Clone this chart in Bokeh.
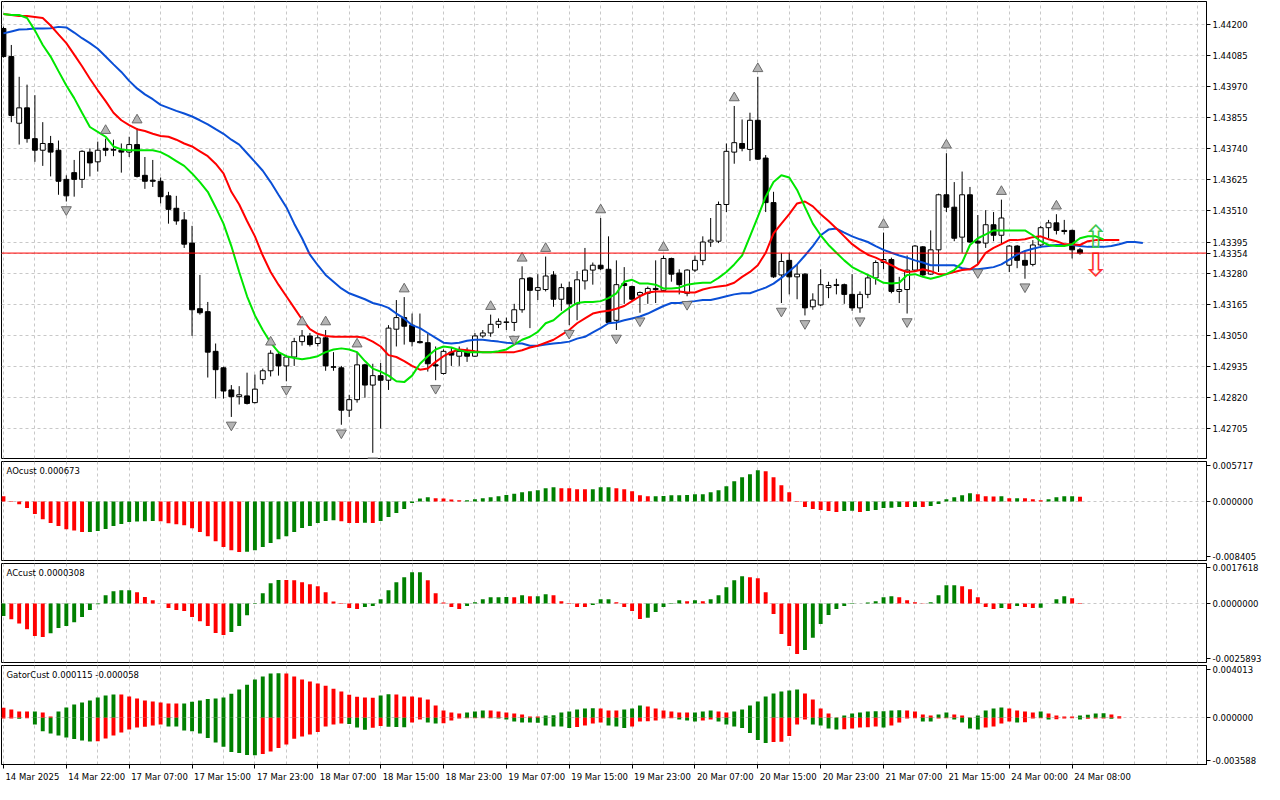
import numpy as np
from bokeh.plotting import figure
from bokeh.layouts import column
from bokeh.models import (Range1d, FixedTicker, Span, Label, ColumnDataSource,
                          CustomJSTickFormatter, PrintfTickFormatter)
from bokeh.embed import file_html
from bokeh.resources import INLINE
from bokeh.core.properties import value

# ---------------- data (prices in points of 0.00001) ----------------
open_pts = [144186,144082,143835,143892,143778,143735,143760,143735,143627,143652,
 143627,143728,143692,143742,143735,143735,143728,143756,143642,143624,
 143620,143566,143520,143477,143391,143148,143137,142990,142929,142847,
 142822,142825,142800,142886,142918,142979,142936,142969,143026,143047,
 143019,143040,142933,142929,142772,142811,142940,142865,142900,142883,
 143072,143115,143087,143026,143022,142940,142908,142987,142972,142987,
 142972,143047,143058,143090,143097,143097,143144,143262,143216,143219,
 143273,143183,143226,143166,143251,143291,143309,143294,143105,143241,
 143230,143198,143205,143223,143216,143334,143280,143205,143291,143327,
 143395,143398,143534,143728,143760,143738,143846,143706,143541,143273,
 143327,143266,143276,143155,143162,143226,143234,143237,143201,143151,
 143201,143262,143319,143330,143212,143219,143291,143377,143276,143366,
 143570,143524,143413,143570,143398,143391,143459,143420,143309,143380,
 143327,143312,143384,143448,143466,143438,143438,143366]
high_pts = [144193,144125,144007,143978,143939,143839,143788,143771,143642,143699,
 143735,143742,143767,143778,143774,143760,143785,143817,143710,143699,
 143634,143581,143566,143506,143455,143273,143173,143019,142933,142865,
 142861,142911,142904,142926,142994,142983,142976,143040,143069,143058,
 143051,143069,142987,142936,142829,142987,142944,142944,142947,143087,
 143180,143191,143130,143130,143055,143008,142997,143004,143008,143004,
 143058,143069,143126,143112,143115,143166,143305,143266,143276,143341,
 143287,143241,143248,143287,143373,143319,143484,143416,143327,143302,
 143234,143212,143230,143327,143345,143337,143294,143294,143345,143416,
 143484,143545,143760,143899,143849,143874,144007,143717,143581,143355,
 143355,143312,143280,143205,143294,143248,143259,143241,143276,143212,
 143276,143327,143430,143337,143266,143345,143384,143380,143438,143574,
 143724,143617,143656,143599,143495,143513,143506,143552,143384,143384,
 143359,143402,143455,143477,143498,143477,143441,143373]
low_pts = [144078,143839,143756,143763,143692,143677,143638,143570,143545,143563,
 143595,143638,143656,143713,143713,143652,143710,143634,143592,143599,
 143538,143463,143459,143373,143047,143126,142893,142815,142815,142747,
 142793,142793,142797,142868,142897,142900,142879,142936,143011,143008,
 143008,142918,142918,142718,142747,142800,142818,142614,142704,142847,
 143008,143015,143008,143019,142915,142883,142904,142936,142936,142951,
 142969,143040,143044,143076,143069,143065,143133,143076,143180,143212,
 143155,143140,143087,143105,143219,143237,143291,143094,143069,143166,
 143176,143133,143166,143169,143212,143248,143201,143194,143284,143309,
 143377,143391,143506,143685,143731,143695,143699,143506,143262,143169,
 143201,143183,143123,143144,143158,143187,143201,143166,143140,143133,
 143187,143237,143294,143205,143169,143130,143284,143266,143273,143284,
 143506,143398,143355,143391,143312,143373,143398,143384,143284,143298,
 143259,143305,143373,143409,143423,143423,143334,143348]
close_pts = [144082,143864,143892,143778,143735,143760,143728,143620,143566,143627,
 143731,143688,143735,143735,143738,143728,143756,143638,143620,143620,
 143563,143516,143473,143387,143144,143133,142987,142922,142843,142822,
 142829,142797,142850,142918,142983,142936,142969,143026,143047,143015,
 143040,142936,142931,142772,142811,142940,142865,142900,142883,143076,
 143115,143083,143026,143022,142944,142936,142990,142976,142990,142972,
 143047,143058,143090,143101,143099,143144,143259,143216,143226,143269,
 143183,143226,143166,143255,143291,143309,143296,143097,143237,143234,
 143183,143208,143223,143219,143334,143276,143237,143291,143327,143395,
 143402,143534,143731,143763,143742,143846,143702,143541,143266,143323,
 143266,143276,143151,143180,143237,143234,143237,143201,143151,143201,
 143262,143319,143330,143212,143219,143291,143380,143273,143366,143570,
 143524,143409,143570,143395,143391,143459,143420,143484,143380,143327,
 143309,143384,143448,143466,143438,143434,143366,143354]

# Alligator lines (points)
jaw_pts = [144168,144175,144182,144183,144186,144186,144187,144192,144190,144171,
 144150,144132,144111,144082,144053,144025,143992,143964,143942,143924,
 143903,143892,143881,143871,143860,143846,143831,143813,143796,143774,
 143756,143724,143692,143659,143617,143570,143524,143463,143409,143348,
 143309,143273,143248,143223,143205,143194,143183,143169,143162,143151,
 143130,143112,143087,143076,143058,143040,143022,143019,143022,143029,
 143033,143033,143029,143026,143022,143019,143019,143011,143011,143015,
 143019,143022,143026,143037,143044,143060,143076,143094,143097,143105,
 143112,143119,143130,143144,143158,143169,143169,143173,143176,143180,
 143180,143187,143194,143201,143205,143205,143216,143226,143241,143262,
 143287,143312,143345,143380,143420,143441,143445,143430,143416,143405,
 143395,143380,143366,143355,143345,143337,143327,143319,143309,143309,
 143309,143309,143298,143294,143294,143298,143302,143312,143330,143348,
 143362,143370,143377,143380,143384,143384,143384,143380,143377,143377,
 143377,143380,143387,143395,143395,143391]
teeth_pts = [144240,144236,144232,144232,144229,144225,144197,144164,144132,144089,
 144046,144000,143957,143917,143874,143846,143828,143813,143806,143796,
 143788,143785,143774,143760,143749,143731,143713,143685,143649,143581,
 143534,143473,143416,143345,143284,143237,143194,143151,143108,143072,
 143055,143047,143044,143044,143044,143044,143040,143026,143008,142976,
 142969,142954,142936,142922,142926,142951,142972,142987,142997,142994,
 142990,142987,142987,142987,142987,142987,142994,143004,143011,143022,
 143033,143051,143069,143094,143112,143130,143137,143140,143148,143158,
 143176,143194,143208,143212,143212,143212,143212,143208,143208,143219,
 143226,143230,143234,143244,143266,143284,143309,143355,143427,143463,
 143498,143538,143545,143527,143498,143473,143445,143416,143387,143366,
 143348,143337,143323,143309,143294,143284,143287,143294,143287,143276,
 143276,143284,143291,143294,143312,143355,143373,143387,143402,143402,
 143405,143413,143416,143405,143398,143387,143387,143384,143398,143402,
 143402,143402,143402]
lips_pts = [144240,144236,144236,144225,144179,144125,144082,144028,143975,143928,
 143874,143821,143803,143785,143749,143738,143735,143735,143735,143735,
 143728,143713,143695,143677,143649,143617,143581,143524,143463,143380,
 143284,143194,143123,143069,143022,142987,142972,142965,142961,142965,
 142972,142987,142997,143001,142997,142987,142954,142926,142915,142900,
 142879,142876,142900,142944,142972,142997,143008,143004,142994,142987,
 142987,142987,142987,142990,142997,143015,143033,143044,143062,143094,
 143105,143130,143151,143169,143173,143173,143176,143187,143205,143248,
 143255,143241,143241,143237,143223,143223,143226,143237,143241,143244,
 143244,143262,143284,143312,143345,143416,143488,143563,143617,143642,
 143634,143588,143524,143463,143420,143384,143355,143327,143302,143287,
 143273,143259,143244,143241,143244,143273,143276,143266,143259,143266,
 143276,143291,143319,143384,143409,143423,143438,143438,143438,143438,
 143438,143420,143398,143384,143380,143380,143387,143409,143416,143416,
 143405]

# Awesome oscillator
ao_vals = [0.000756,0.000100,-0.000385,-0.000899,-0.001755,-0.002526,-0.003040,-0.003468,-0.003953,-0.004138,
 -0.004352,-0.004324,-0.004181,-0.003896,-0.003468,-0.003182,-0.002897,-0.002825,-0.002797,-0.002783,
 -0.002811,-0.003097,-0.003239,-0.003382,-0.003810,-0.004324,-0.004952,-0.005665,-0.006464,-0.006949,
 -0.007192,-0.007164,-0.006949,-0.006464,-0.005894,-0.005380,-0.004952,-0.004324,-0.003753,-0.003468,
 -0.003040,-0.002754,-0.002668,-0.002811,-0.003040,-0.003054,-0.003025,-0.003040,-0.002754,-0.002183,
 -0.001613,-0.001042,-0.000186,0.000428,0.000614,0.000471,0.000428,0.000285,0.000186,0.000200,
 0.000328,0.000471,0.000614,0.000756,0.000956,0.001099,0.001327,0.001470,0.001613,0.001898,
 0.002041,0.001898,0.001884,0.001755,0.001741,0.001769,0.002041,0.002055,0.001898,0.001755,
 0.001470,0.000899,0.000756,0.000771,0.000785,0.000899,0.000913,0.000928,0.001042,0.001056,
 0.001327,0.001613,0.002183,0.002897,0.003468,0.003896,0.004467,0.004324,0.003468,0.002326,
 0.001327,0.000071,-0.000756,-0.001042,-0.001184,-0.001327,-0.001470,-0.001327,-0.001313,-0.001470,
 -0.001327,-0.001184,-0.000899,-0.000885,-0.000756,-0.000771,-0.000756,-0.000763,-0.000614,-0.000328,
 0.000328,0.000614,0.000899,0.001184,0.001042,0.000756,0.000742,0.000756,0.000471,0.000485,
 0.000471,0.000328,0.000186,0.000328,0.000614,0.000756,0.000771,0.000673]
ao_before = 0.00095

# Accelerator oscillator
ac_vals = [-0.000541,-0.000690,-0.000879,-0.001130,-0.001420,-0.001464,-0.001305,-0.001068,-0.000980,-0.000822,
 -0.000585,-0.000277,-0.000031,0.000365,0.000541,0.000585,0.000589,0.000497,0.000294,0.000145,
 0.000004,-0.000189,-0.000277,-0.000321,-0.000585,-0.000778,-0.000980,-0.001288,-0.001376,-0.001244,
 -0.000980,-0.000514,-0.000013,0.000453,0.000892,0.001042,0.001037,0.001028,0.000936,0.000848,
 0.000760,0.000497,0.000088,-0.000013,-0.000189,-0.000233,-0.000145,-0.000101,0.000189,0.000585,
 0.000936,0.001156,0.001376,0.001380,0.001024,0.000453,0.000044,-0.000145,-0.000233,-0.000101,
 0.000057,0.000189,0.000277,0.000281,0.000286,0.000277,0.000365,0.000321,0.000325,0.000409,
 0.000365,0.000101,-0.000013,-0.000145,-0.000149,-0.000057,0.000189,0.000193,0.000057,-0.000145,
 -0.000321,-0.000672,-0.000628,-0.000365,-0.000145,-0.000013,0.000145,0.000101,0.000145,0.000101,
 0.000189,0.000365,0.000716,0.001024,0.001200,0.001156,0.001112,0.000497,-0.000453,-0.001332,
 -0.001859,-0.002219,-0.002035,-0.001507,-0.000892,-0.000497,-0.000233,-0.000101,-0.000013,0.000004,
 0.000044,0.000101,0.000277,0.000321,0.000277,0.000145,0.000057,0.000013,0.000057,0.000365,
 0.000804,0.000809,0.000760,0.000628,0.000277,-0.000145,-0.000233,-0.000189,-0.000233,-0.000101,
 -0.000145,-0.000189,-0.000185,0.000004,0.000189,0.000321,0.000233,0.0000308]
ac_before = -0.000600

# Gator oscillator (units of 0.000001)
gator_up_u = [768,637,484,476,484,407,100,484,791,1021,
 1175,1329,1559,1713,1789,1782,1636,1482,1329,1252,
 1175,1098,1091,1098,1229,1329,1436,1482,1559,1843,
 2173,2534,2941,3172,3402,3410,3402,3172,2941,2788,
 2634,2458,2227,2020,1766,1613,1559,1536,1713,1812,
 1789,1636,1628,1559,1405,945,561,407,330,407,
 484,561,553,484,407,330,253,100,92,177,
 184,407,484,637,714,722,714,561,553,637,
 714,945,868,714,561,484,407,399,407,484,
 561,484,407,484,637,945,1252,1636,1866,2020,
 2097,2173,1866,1405,714,330,23,177,330,407,
 484,492,499,561,568,561,484,253,177,253,
 407,253,177,23,177,561,714,791,714,561,
 484,407,484,330,177,100,92,177,230,330,
 338,253,115]
gator_dn_u = [61,54,77,38,515,1037,1206,1359,1513,1628,
 1743,1820,1812,1590,1359,1129,899,745,691,591,
 515,668,676,975,1037,1206,1559,1897,2227,2634,
 2711,2865,2872,2788,2588,2327,2051,1613,1436,1283,
 1098,668,515,438,484,745,922,768,637,691,
 714,722,361,131,361,438,430,207,54,46,
 38,31,38,54,131,284,361,369,376,591,
 668,676,791,714,591,438,361,591,668,791,
 668,284,276,207,54,46,131,207,284,207,
 131,284,515,668,791,1175,1713,1943,1866,1843,
 1405,515,131,515,591,822,899,891,822,745,
 737,668,745,591,361,54,46,284,292,54,
 46,131,361,822,899,745,668,438,284,361,
 353,54,46,131,123,54,46,131,77,61,
 54,69,58]
gator_up_before = 850
gator_dn_before = 80

fractal_up_bars = [13,17,34,38,41,45,51,62,66,69,76,84,93,96,112,120,127,134]
fractal_down_bars = [8,29,36,43,47,55,65,72,78,81,87,99,102,109,115,124,130]

signal_bar = 139
signal_up_price = 1.43412
signal_down_price = 1.43309
current_price = 1.43354

price_ticks = [1.42705,1.42820,1.42935,1.43050,1.43165,1.43280,1.43395,
               1.43510,1.43625,1.43740,1.43855,1.43970,1.44085,1.44200]
time_tick_bars = [0,8,16,24,32,40,48,56,64,72,80,88,96,104,112,120,128,136]
time_tick_labels = ["14 Mar 2025","14 Mar 22:00","17 Mar 07:00","17 Mar 15:00",
                    "17 Mar 23:00","18 Mar 07:00","18 Mar 15:00","18 Mar 23:00",
                    "19 Mar 07:00","19 Mar 15:00","19 Mar 23:00","20 Mar 07:00",
                    "20 Mar 15:00","20 Mar 23:00","21 Mar 07:00","21 Mar 15:00",
                    "24 Mar 00:00","24 Mar 08:00"]

main_range = (1.42593, 1.44286)
ao_range = (-0.008405, 0.005717)
ac_range = (-0.0025893, 0.0017618)
gator_range = (-0.003588, 0.004013)
ao_tick_labels = ["-0.008405", "0.000000", "0.005717"]
ac_tick_labels = ["-0.0025893", "0.0000000", "0.0017618"]
gator_tick_labels = ["-0.003588", "0.000000", "0.004013"]

# ---------------- derived ----------------
PT = 1e-5
o = np.array(open_pts) * PT
h = np.array(high_pts) * PT
l = np.array(low_pts) * PT
c = np.array(close_pts) * PT
n = len(o)
bars = np.arange(n)

ao = np.array(ao_vals)
ac = np.array(ac_vals)
gu = np.array(gator_up_u) * 1e-6
gd = -np.array(gator_dn_u) * 1e-6

UPC = "#008000"
DNC = "#ff0000"
GRID = "#c8c8c8"
FONT = "DejaVu Sans"
FS = 8.5


def trend_colors(vals, before):
    prev = np.concatenate([[before], vals[:-1]])
    return [UPC if v > p else DNC for v, p in zip(vals, prev)]


W = 1264
RB = 58
X0, X1 = -0.25, 153.1
FRAME_W = W - 1 - RB
PX_PER_BAR = FRAME_W / (X1 - X0)
x_range = Range1d(X0, X1)
grid_bars = list(range(0, 156, 4))

# approximate DejaVu Sans advance widths (em) to left-align the time labels
EM = {" ": 0.318, ":": 0.337, "M": 0.863, "a": 0.613, "r": 0.411}


def text_px(s):
    return sum(EM.get(ch, 0.636) for ch in s) * FS


def make_fig(height, yr, bottom_border, show_x):
    p = figure(width=W, height=height, x_range=x_range, y_range=Range1d(*yr),
               output_backend="svg", toolbar_location=None,
               x_axis_location="below" if show_x else None,
               y_axis_location="right", title_location=None,
               min_border_left=1, min_border_right=RB, min_border_top=1,
               min_border_bottom=bottom_border,
               background_fill_color="white", border_fill_color="white",
               outline_line_color="black", outline_line_width=1)
    p.xgrid.ticker = FixedTicker(ticks=grid_bars)
    for g in (p.xgrid, p.ygrid):
        g.grid_line_color = GRID
        g.grid_line_dash = "3 3"
        g.grid_line_width = 1
    ax = p.yaxis[0]
    ax.axis_line_color = "black"
    ax.major_tick_out = 4
    ax.major_tick_in = 0
    ax.minor_tick_out = 0
    ax.minor_tick_in = 0
    ax.major_tick_line_color = "black"
    ax.major_label_standoff = 2
    ax.major_label_text_font = FONT
    ax.major_label_text_font_size = f"{FS}px"
    ax.major_label_text_color = "black"
    return p


def sub_axis(p, yr, labels):
    span = yr[1] - yr[0]
    ticks = [yr[0] + 0.045 * span, 0.0, yr[1] - 0.045 * span]
    p.yaxis[0].ticker = FixedTicker(ticks=ticks)
    p.yaxis[0].formatter = CustomJSTickFormatter(
        args=dict(labels=labels),
        code="if (tick > 0) { return labels[2]; } else if (tick < 0) { return labels[0]; } return labels[1];")
    p.ygrid.ticker = FixedTicker(ticks=[0.0])


def title_label(p, yr, text):
    p.add_layout(Label(x=X0, y=yr[1], x_offset=5, y_offset=-4, text=text,
                       text_baseline="top", text_align="left",
                       text_font=FONT, text_font_size=f"{FS}px", text_color="black"))


# ---------------- main price panel ----------------
pm = make_fig(460, main_range, 2, False)
pm.yaxis[0].ticker = FixedTicker(ticks=sorted(price_ticks + [current_price]))
pm.yaxis[0].formatter = PrintfTickFormatter(format="%.5f")

csrc = ColumnDataSource(dict(
    x=bars, h=h, l=l,
    top=np.maximum(o, c), bottom=np.minimum(o, c),
    fill=["white" if cc >= oo else "black" for oo, cc in zip(o, c)]))
pm.segment(x0="x", y0="h", x1="x", y1="l", source=csrc, line_color="black", line_width=1)
pm.vbar(x="x", width=0.62, top="top", bottom="bottom", source=csrc,
        fill_color="fill", line_color="black", line_width=1)

pm.line(np.arange(len(jaw_pts)), np.array(jaw_pts) * PT, line_color="#0a4fd6", line_width=2)
pm.line(np.arange(len(teeth_pts)), np.array(teeth_pts) * PT, line_color="#ff0000", line_width=2)
pm.line(np.arange(len(lips_pts)), np.array(lips_pts) * PT, line_color="#00e600", line_width=2)

fu = np.array(fractal_up_bars)
fdn = np.array(fractal_down_bars)
pm.scatter(fu, h[fu] + 0.00030, marker="triangle", size=10,
           fill_color="#b4b4b4", line_color="#6a6a6a", line_width=1)
pm.scatter(fdn, l[fdn] - 0.00030, marker="inverted_triangle", size=10,
           fill_color="#b4b4b4", line_color="#6a6a6a", line_width=1)

pm.text(x=[signal_bar], y=[signal_up_price], text=["\u21e7"], text_color="#3cc850",
        text_font=value(FONT), text_font_size="32px", text_align="center",
        text_baseline="middle")
pm.text(x=[signal_bar], y=[signal_down_price], text=["\u21e9"], text_color="#ff3030",
        text_font=value(FONT), text_font_size="32px", text_align="center",
        text_baseline="middle")

pm.add_layout(Span(location=current_price, dimension="width",
                   line_color="#ff0000", line_width=1))

# ---------------- AO panel ----------------
pao = make_fig(102, ao_range, 2, False)
sub_axis(pao, ao_range, ao_tick_labels)
pao.vbar(x=bars, top=ao, bottom=0, width=0.5,
         fill_color=trend_colors(ao, ao_before), line_color=None)
title_label(pao, ao_range, f"AOcust {ao[-1]:.6f}")

# ---------------- AC panel ----------------
pac = make_fig(102, ac_range, 2, False)
sub_axis(pac, ac_range, ac_tick_labels)
pac.vbar(x=bars, top=ac, bottom=0, width=0.5,
         fill_color=trend_colors(ac, ac_before), line_color=None)
title_label(pac, ac_range, f"ACcust {ac[-1]:.7f}")

# ---------------- Gator panel ----------------
pg = make_fig(120, gator_range, 20, True)
sub_axis(pg, gator_range, gator_tick_labels)
gx = np.arange(len(gu))
pg.vbar(x=gx, top=gu, bottom=0, width=0.5,
        fill_color=trend_colors(np.array(gator_up_u, dtype=float), gator_up_before),
        line_color=None)
pg.vbar(x=gx, top=0, bottom=gd, width=0.5,
        fill_color=trend_colors(np.array(gator_dn_u, dtype=float), gator_dn_before),
        line_color=None)
title_label(pg, gator_range, f"GatorCust {gu[-1]:.6f} {gd[-1]:.6f}")

# time axis: labels centred right of their tick so they read left-aligned
label_pos = [b + (text_px(t) / 2 + 2) / PX_PER_BAR
             for b, t in zip(time_tick_bars, time_tick_labels)]
xa = pg.xaxis[0]
xa.ticker = FixedTicker(ticks=label_pos, minor_ticks=time_tick_bars)
xa.formatter = CustomJSTickFormatter(args=dict(labels=time_tick_labels),
                                     code="return labels[index];")
xa.major_label_text_font = FONT
xa.major_label_text_font_size = f"{FS}px"
xa.major_label_text_color = "black"
xa.major_label_standoff = 3
xa.major_tick_out = 0
xa.major_tick_in = 0
xa.minor_tick_out = 4
xa.minor_tick_in = 0
xa.minor_tick_line_color = "black"
xa.axis_line_color = "black"

layout = column(pm, pao, pac, pg, spacing=0)

with open("out.html", "w") as f:
    f.write(file_html(layout, INLINE))
